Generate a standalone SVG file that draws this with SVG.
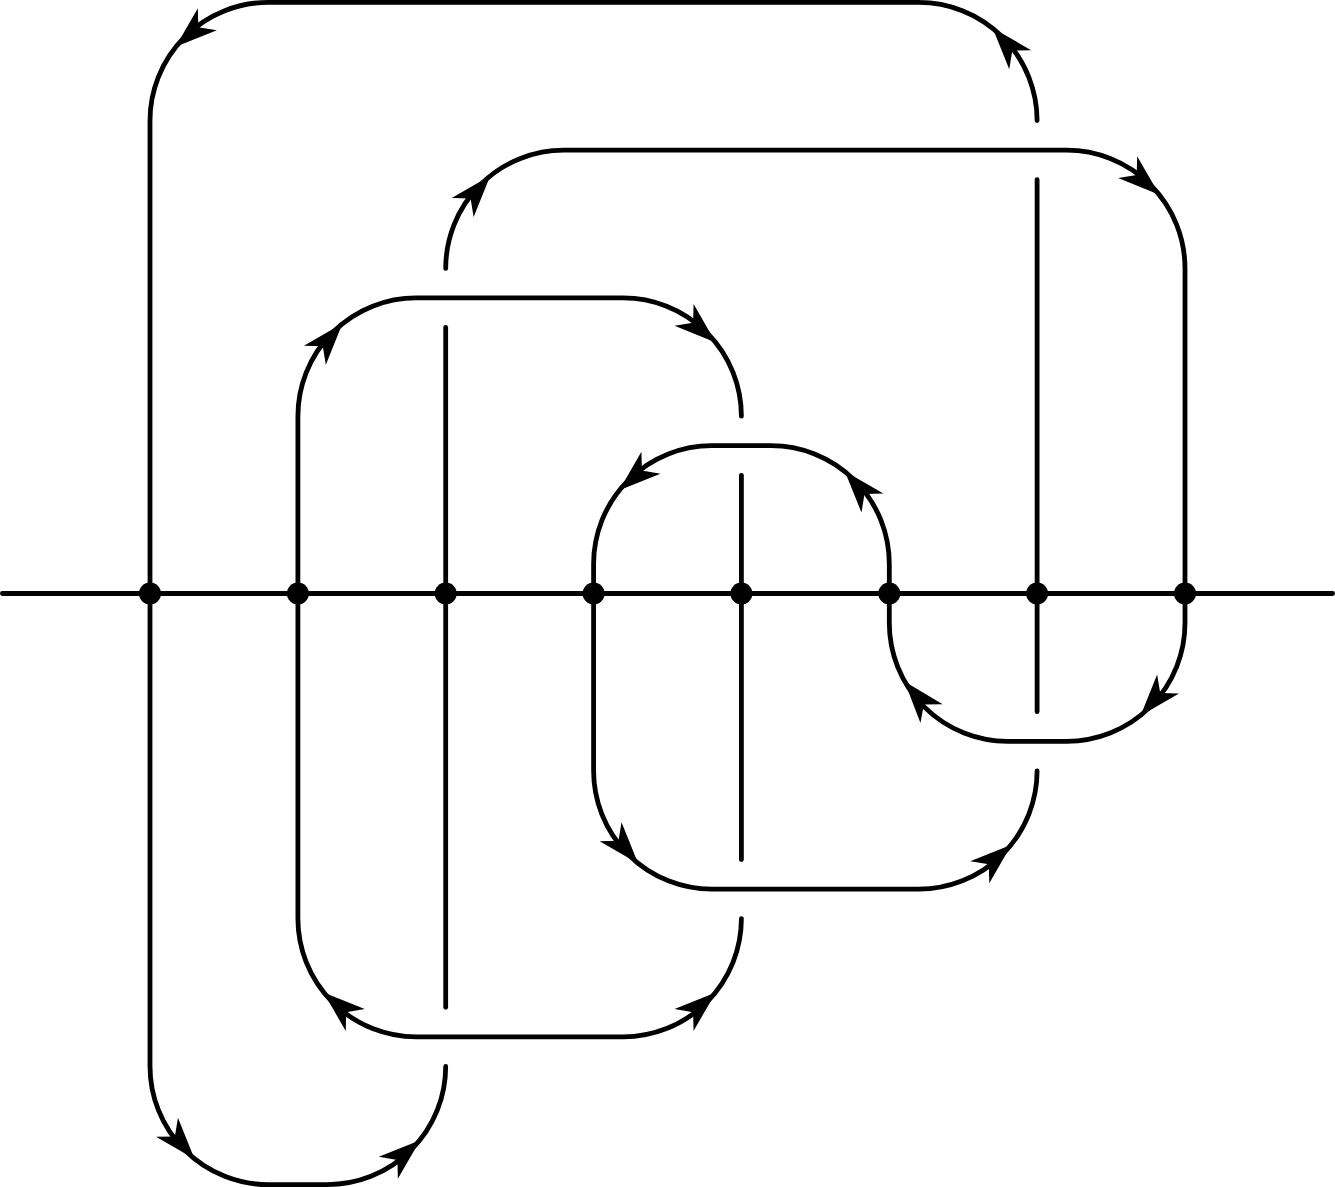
<svg xmlns="http://www.w3.org/2000/svg" xmlns:xlink="http://www.w3.org/1999/xlink" width="1335" height="1187" viewBox="0 0 1335 1187">
<style>
.s{fill:none;stroke:#000;stroke-width:4.8;stroke-linecap:round;stroke-linejoin:round}
.d{fill:#000;stroke:none}
.a{fill:#000;stroke:none}
</style>
<defs>
<path id="ah" class="a" d="M1,0 L-41,-14.5 L-29,0 L-41,14.5 Z"/>
</defs>
<rect width="1335" height="1187" fill="#fff"/>
<g id="connectors">
<path id="axis" class="s" d="M2.4,593.5 H1332.6"/>
<path id="strandA" class="s" d="M1037.1,120.6 A118.3,118.3 0 0 0 918.8,2.4 H268.3 A118.3,118.3 0 0 0 150,120.6 V1066.4 A118.3,118.3 0 0 0 268.3,1184.6 H327.4 A118.3,118.3 0 0 0 445.7,1066.4"/>
<path id="strandB" class="s" d="M445.7,268.4 A118.3,118.3 0 0 1 564,150.1 H1066.7 A118.3,118.3 0 0 1 1185,268.4 V623 A118.3,118.3 0 0 1 1066.7,741.3 H1007.6 A118.3,118.3 0 0 1 889.3,623 V564 A118.3,118.3 0 0 0 771,445.7 H711.9 A118.3,118.3 0 0 0 593.6,564 V770.8 A118.3,118.3 0 0 0 711.9,889.1 H918.8 A118.3,118.3 0 0 0 1037.1,770.8"/>
<path id="strandC" class="s" d="M1037.1,179.7 V711.7"/>
<path id="strandD" class="s" d="M741.4,416.2 A118.3,118.3 0 0 0 623.1,297.9 H416.2 A118.3,118.3 0 0 0 297.9,416.2 V918.6 A118.3,118.3 0 0 0 416.2,1036.9 H623.1 A118.3,118.3 0 0 0 741.4,918.6"/>
<path id="strandE" class="s" d="M445.7,327.5 V1007.3"/>
<path id="strandF" class="s" d="M741.4,475.3 V859.5"/>
<g id="arrowheads">
<use xlink:href="#ah" transform="translate(176.4,46.2) rotate(139)"/>
<use xlink:href="#ah" transform="translate(993.3,28.7) rotate(-131)"/>
<use xlink:href="#ah" transform="translate(193.9,1158.3) rotate(49)"/>
<use xlink:href="#ah" transform="translate(419.3,1140.9) rotate(-41)"/>
<use xlink:href="#ah" transform="translate(489.6,176.5) rotate(-49)"/>
<use xlink:href="#ah" transform="translate(1158.6,194) rotate(41)"/>
<use xlink:href="#ah" transform="translate(1141.2,714.9) rotate(131)"/>
<use xlink:href="#ah" transform="translate(905.2,682.2) rotate(-130)"/>
<use xlink:href="#ah" transform="translate(845.5,472.1) rotate(-131)"/>
<use xlink:href="#ah" transform="translate(620,489.6) rotate(139)"/>
<use xlink:href="#ah" transform="translate(637.5,862.7) rotate(49)"/>
<use xlink:href="#ah" transform="translate(1010.7,845.3) rotate(-41)"/>
<use xlink:href="#ah" transform="translate(341.8,324.3) rotate(-49)"/>
<use xlink:href="#ah" transform="translate(715,341.8) rotate(41)"/>
<use xlink:href="#ah" transform="translate(324.3,993.1) rotate(-139)"/>
<use xlink:href="#ah" transform="translate(715,993.1) rotate(-41)"/>
</g>
</g>
<g id="node1"><circle class="d" cx="150" cy="593.5" r="11"/></g>
<g id="node2"><circle class="d" cx="297.9" cy="593.5" r="11"/></g>
<g id="node3"><circle class="d" cx="445.7" cy="593.5" r="11"/></g>
<g id="node4"><circle class="d" cx="593.6" cy="593.5" r="11"/></g>
<g id="node5"><circle class="d" cx="741.4" cy="593.5" r="11"/></g>
<g id="node6"><circle class="d" cx="889.3" cy="593.5" r="11"/></g>
<g id="node7"><circle class="d" cx="1037.1" cy="593.5" r="11"/></g>
<g id="node8"><circle class="d" cx="1185" cy="593.5" r="11"/></g>
</svg>
